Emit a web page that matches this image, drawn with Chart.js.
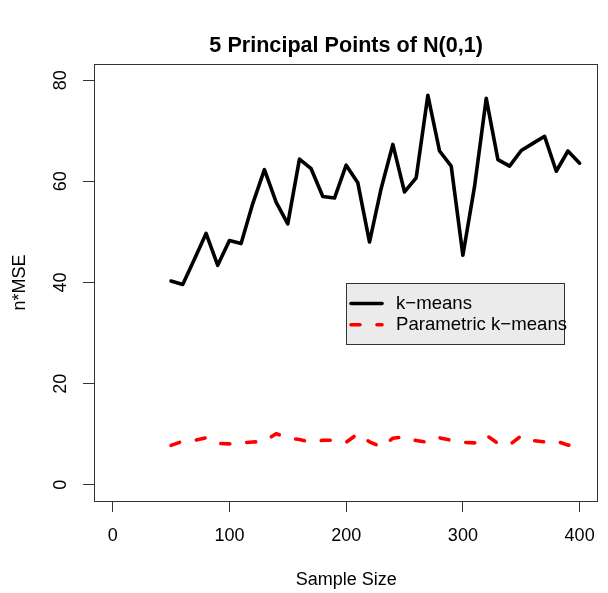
<!DOCTYPE html>
<html>
<head>
<meta charset="utf-8">
<script src="https://cdn.jsdelivr.net/npm/chart.js@4.4.1/dist/chart.umd.min.js"></script>
<style>
html,body{margin:0;padding:0;background:#fff;}
canvas{display:block;}
</style>
</head>
<body>
<canvas id="c" width="608" height="593"></canvas>
<script>
// ---- data ----
const sampleSizes = [50,60,70,80,90,100,110,120,130,140,150,160,170,180,190,200,210,220,230,240,250,260,270,280,290,300,310,320,330,340,350,360,370,380,390,400];
const kmeansMSE = [40.3,39.6,44.6,49.7,43.4,48.3,47.7,55.6,62.3,55.9,51.6,64.4,62.5,57.0,56.7,63.2,59.7,48.0,58.6,67.3,57.9,60.7,77.0,66.0,63.0,45.4,59.0,76.4,64.3,63.0,66.1,67.5,68.9,62.0,66.0,63.6];
const paramKmeansMSE = [7.8,8.6,8.8,9.3,8.2,8.1,8.3,8.45,8.6,10.1,9.3,8.95,8.45,8.8,8.8,8.4,10.1,8.5,7.5,9.2,9.5,8.75,8.4,9.3,8.8,8.4,8.3,9.8,8.2,7.9,9.7,8.75,8.5,8.65,7.85,7.9];
const xTickValues = [0,100,200,300,400];
const yTickValues = [0,20,40,60,80];
const seriesLabels = ['k\u2212means','Parametric k\u2212means'];
const chartTitle = '5 Principal Points of N(0,1)';
const xAxisTitle = 'Sample Size';
const yAxisTitle = 'n*MSE';
const legendAnchor = {x: 200, y: 40};

const FONT = '"Liberation Sans", Arial, Helvetica, sans-serif';
Chart.defaults.font.family = FONT;
Chart.defaults.font.size = 18;
Chart.defaults.color = '#000';

const boxAndLegend = {
  id: 'boxAndLegend',
  afterDatasetsDraw(chart) {
    const {ctx, chartArea: a, scales} = chart;
    ctx.save();
    // plot box
    ctx.strokeStyle = '#333';
    ctx.lineWidth = 1;
    ctx.strokeRect(Math.round(a.left) + 0.5, Math.round(a.top) + 0.5,
                   Math.round(a.right - a.left) - 1, Math.round(a.bottom - a.top));
    // legend
    const lx = Math.round(scales.x.getPixelForValue(legendAnchor.x));
    const ly = Math.round(scales.y.getPixelForValue(legendAnchor.y));
    const lw = 218, lh = 61;
    ctx.fillStyle = '#ebebeb';
    ctx.fillRect(lx, ly, lw, lh);
    ctx.strokeStyle = '#333';
    ctx.strokeRect(lx + 0.5, ly + 0.5, lw, lh);
    const rows = [ly + 20.5, ly + 41.7];
    chart.data.datasets.forEach((ds, i) => {
      const y = rows[i];
      ctx.beginPath();
      ctx.strokeStyle = ds.borderColor;
      ctx.lineWidth = ds.borderWidth;
      ctx.lineCap = ds.borderCapStyle || 'butt';
      ctx.setLineDash(ds.borderDash || []);
      ctx.moveTo(lx + 5, y);
      ctx.lineTo(lx + 36, y);
      ctx.stroke();
      ctx.setLineDash([]);
      ctx.fillStyle = '#000';
      ctx.font = '18.6px ' + FONT;
      ctx.textBaseline = 'middle';
      ctx.textAlign = 'left';
      ctx.fillText(ds.label, lx + 50, y);
    });
    ctx.restore();
  }
};

new Chart(document.getElementById('c'), {
  type: 'line',
  data: {
    datasets: [
      {
        label: seriesLabels[0],
        data: sampleSizes.map((s, i) => ({x: s, y: kmeansMSE[i]})),
        borderColor: '#000',
        borderWidth: 3.6,
        borderJoinStyle: 'round',
        borderCapStyle: 'round',
        pointRadius: 0,
        tension: 0,
        fill: false
      },
      {
        label: seriesLabels[1],
        data: sampleSizes.map((s, i) => ({x: s, y: paramKmeansMSE[i]})),
        borderColor: '#ff0000',
        borderWidth: 3.6,
        borderDash: [9, 17],
        borderJoinStyle: 'round',
        borderCapStyle: 'round',
        pointRadius: 0,
        tension: 0,
        fill: false
      }
    ]
  },
  options: {
    responsive: false,
    animation: false,
    devicePixelRatio: 1,
    layout: {padding: {left: 0, right: 8, top: 0, bottom: 0}},
    plugins: {
      legend: {display: false},
      tooltip: {enabled: false},
      title: {
        display: true,
        text: chartTitle,
        fullSize: false,
        color: '#000',
        font: {size: 21.6, weight: 'bold', lineHeight: 1.2},
        padding: {top: 33, bottom: 5.08}
      }
    },
    scales: {
      x: {
        type: 'linear',
        min: -16,
        max: 416,
        afterBuildTicks: s => { s.ticks = xTickValues.map(v => ({value: v})); },
        afterFit: s => { s.height = 92; },
        border: {display: false},
        grid: {drawOnChartArea: false, drawTicks: true, tickLength: 11, tickColor: '#333', tickWidth: 1},
        ticks: {padding: 13, color: '#000', font: {size: 18}, maxRotation: 0, autoSkip: false},
        title: {display: true, text: xAxisTitle, color: '#000', font: {size: 18, lineHeight: 1.2}, padding: {top: 0, bottom: 2.2}}
      },
      y: {
        type: 'linear',
        min: -3.2,
        max: 83.2,
        afterBuildTicks: s => { s.ticks = yTickValues.map(v => ({value: v})); },
        afterFit: s => { s.width = 94; },
        border: {display: false},
        grid: {drawOnChartArea: false, drawTicks: true, tickLength: 11, tickColor: '#333', tickWidth: 1},
        ticks: {padding: 12, color: '#000', font: {size: 18}, minRotation: 90, maxRotation: 90, crossAlign: 'center', autoSkip: false},
        title: {display: true, text: yAxisTitle, color: '#000', font: {size: 18, lineHeight: 1.2}, padding: {top: 9, bottom: 0}}
      }
    }
  },
  plugins: [boxAndLegend]
});
</script>
</body>
</html>
